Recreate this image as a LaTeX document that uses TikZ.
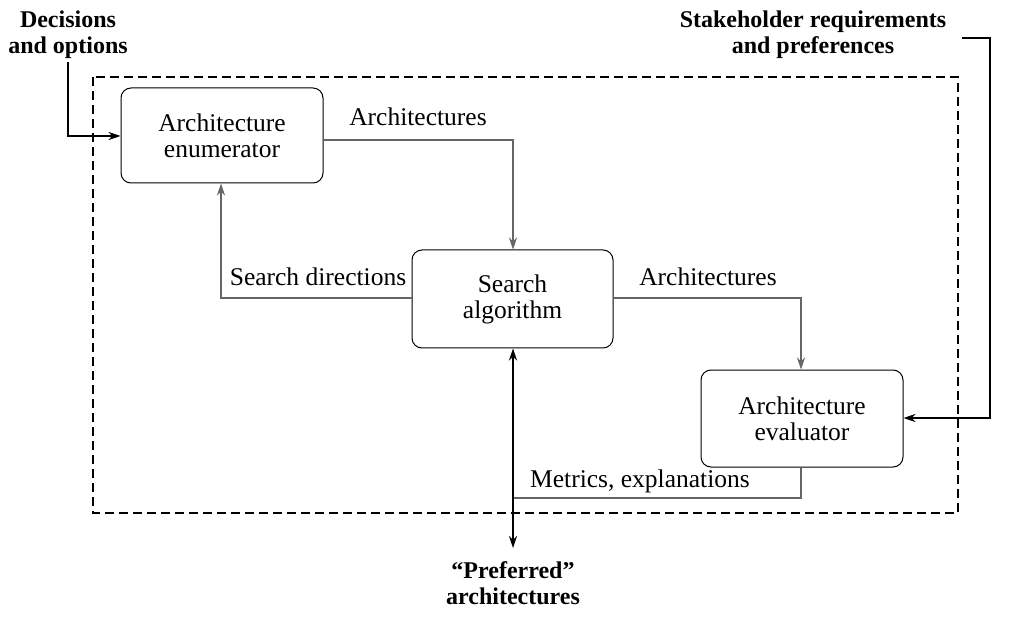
\documentclass[tikz,border=0pt]{standalone}
\usepackage{fontspec}
\setmainfont{Liberation Serif}
\usetikzlibrary{arrows.meta}
\begin{document}
\begin{tikzpicture}[x=1pt,y=-1pt,
  box/.style={draw,rounded corners=10pt,line width=1pt},
  txt/.style={font=\fontsize{25.5}{26}\selectfont,align=center},
  btxt/.style={font=\fontsize{24}{26}\selectfont\bfseries,align=center},
  gar/.style={draw=gray!80!black,line width=1.1pt,-{Stealth[length=12pt,width=8pt]}},
  gln/.style={draw=gray!80!black,line width=1.1pt},
  bar/.style={draw,line width=1.2pt,-{Stealth[length=12pt,width=8pt]}}]
\useasboundingbox (0,0) rectangle (1015,620);
\draw[line width=1.8pt,dash pattern=on 9pt off 5pt] (93,77) rectangle (958,513);
\node[box,minimum width=202pt,minimum height=95pt,txt] (en) at (222,135.5) {Architecture\\enumerator};
\node[box,minimum width=201pt,minimum height=98pt,txt] (sa) at (512.5,299) {Search\\algorithm};
\node[box,minimum width=202pt,minimum height=97pt,txt] (ev) at (802,418.5) {Architecture\\evaluator};
\coordinate (c1) at (513,140);
\draw[gar] (en.east |- c1) -- (c1) -- (sa.north -| c1);
\node[txt] (l1) at (418,117) {Architectures};
\coordinate (c2) at (221,298);
\draw[gar] (sa.west |- c2) -- (c2) -- (en.south -| c2);
\node[txt] (l2) at (318,277) {Search directions};
\coordinate (c3) at (801,298);
\draw[gar] (sa.east |- c3) -- (c3) -- (ev.north -| c3);
\node[txt] (l3) at (708,277) {Architectures};
\coordinate (c4) at (801,498);
\coordinate (c5) at (513,498);
\draw[gln] (ev.south -| c4) -- (c4) -- (c5);
\node[txt] (l4) at (640,481) {Metrics, explanations};
\node[btxt] (pref) at (513,583) {``Preferred''\\architectures};
\coordinate (c6) at (513,548);
\draw[draw,line width=1.2pt,{Stealth[length=12pt,width=8pt]}-{Stealth[length=12pt,width=8pt]}] (sa.south -| c6) -- (c6);
\node[btxt] (dec) at (68,35) {Decisions\\and options};
\coordinate (d1) at (68,62);
\coordinate (d2) at (68,136);
\draw[bar] (d1) -- (d2) -- (en.west |- d2);
\node[btxt] (sk) at (813,35) {Stakeholder requirements\\and preferences};
\coordinate (s1) at (962,38);
\coordinate (s2) at (990,38);
\coordinate (s3) at (990,418);
\draw[bar] (s1) -- (s2) -- (s3) -- (ev.east |- s3);
\end{tikzpicture}
\end{document}
